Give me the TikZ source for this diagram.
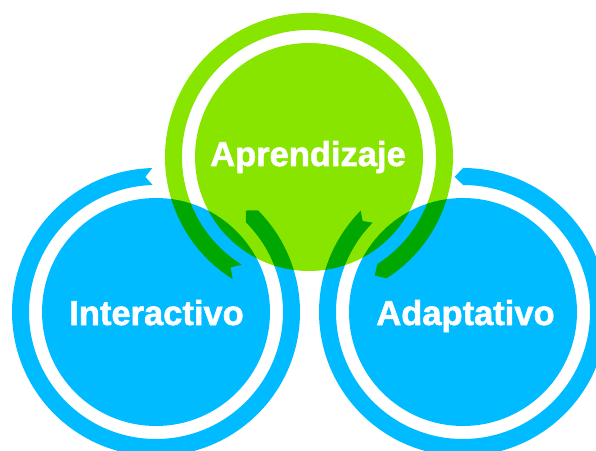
\documentclass[tikz,border=0pt]{standalone}
\usepackage{fontspec}
\setmainfont{Liberation Sans}
\newfontfamily\heavyfont{Liberation Sans}[BoldFeatures={FakeBold=1.6}]
\definecolor{bluec}{RGB}{0,187,255}
\definecolor{greenc}{RGB}{136,229,0}
\begin{document}
\begin{tikzpicture}[x=1pt,y=1pt,
  lbl/.style={text=white,font=\heavyfont\bfseries\fontsize{34.5}{40}\selectfont,inner sep=0pt,anchor=base}]
\useasboundingbox (0,0) rectangle (596,450);
\clip (0,0) rectangle (596,450);
\coordinate (G) at (309,293);
\coordinate (L) at (156,138);
\coordinate (R) at (463,138);
\begin{scope}[blend group=multiply]
  % disks
  \fill[greenc] (G) circle[radius=114];
  \fill[bluec] (L) circle[radius=114];
  \fill[bluec] (R) circle[radius=114];
  % green ring
  \begin{scope}[shift={(G)}]
    \fill[greenc] (-57.4:144) arc[start angle=-57.4,end angle=238,radius=144]
      -- (234.6:135.5) -- (238:127) arc[start angle=238,end angle=-57.4,radius=127]
      -- (-61:135.5) -- cycle;
  \end{scope}
  % left blue ring
  \begin{scope}[shift={(L)}]
    \fill[bluec] (91.5:144) arc[start angle=91.5,end angle=404.9,radius=144]
      -- (408.5:135.5) -- (404.9:127) arc[start angle=404.9,end angle=91.5,radius=127]
      -- (94.5:135.5) -- cycle;
  \end{scope}
  % right blue ring
  \begin{scope}[shift={(R)}]
    \fill[bluec] (135.3:144) arc[start angle=135.3,end angle=450,radius=144]
      -- (453.5:135.5) -- (450:127) arc[start angle=450,end angle=135.3,radius=127]
      -- (137.8:135.5) -- cycle;
  \end{scope}
\end{scope}
\node[lbl] (tg) at (308,284) {Aprendizaje};
\node[lbl] (tl) at (156.5,125) {Interactivo};
\node[lbl] (tr) at (465.5,125) {Adaptativo};
\end{tikzpicture}
\end{document}
